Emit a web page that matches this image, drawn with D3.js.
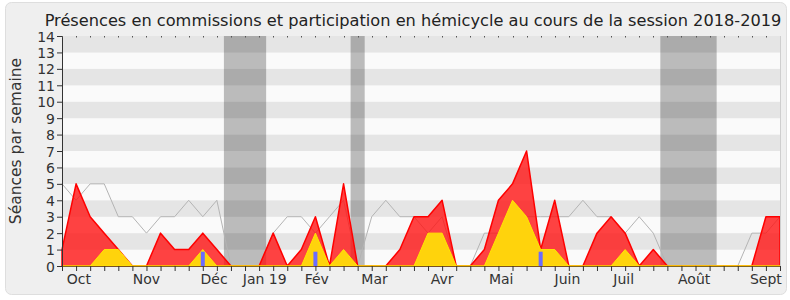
<!DOCTYPE html>
<html>
<head>
<meta charset="utf-8">
<script src="https://cdn.jsdelivr.net/npm/d3@7"></script>
<style>
  html, body { margin: 0; padding: 0; background: #ffffff; }
  svg { display: block; font-family: "DejaVu Sans", Verdana, sans-serif; }
</style>
</head>
<body>
<svg id="chart" width="790" height="300"></svg>
<script>
// ---- data (one value per week, session 2018-2019) ----
const weeks = d3.range(52);
const commissions = [1,5,3,2,1,0,0,2,1,1,2,1,0,0,0,2,0,1,3,0,5,0,0,0,1,3,3,4,0,0,1,4,5,7,1,4,0,0,2,3,2,0,1,0,0,0,0,0,0,0,3,3];
const hemicycle   = [0,0,0,1,1,0,0,0,0,0,1,0,0,0,0,0,0,0,2,0,1,0,0,0,0,0,2,2,0,0,0,2,4,3,1,1,0,0,0,0,1,0,0,0,0,0,0,0,0,0,0,0];
const mediane     = [5,4,5,5,3,3,2,3,3,4,3,4,0,0,0,2,3,3,2,3,4,0,3,4,3,3,2,3,0,0,2,2,3,3,3,3,3,4,3,3,2,3,2,0,0,0,0,0,0,2,2,3];
const questionWeeks  = [10, 18, 34];
const questionValues = [0.87, 0.87, 0.87];
const vacationWeeks = [[12,13,14],[21],[43,44,45,46]];
const monthLabels = ["Oct","Nov","Déc","Jan 19","Fév","Mar","Avr","Mai","Juin","Juil","Août","Sept"];
const monthPos    = [1.2, 6, 10.8, 14.4, 18.1, 22.2, 27, 31.2, 35.9, 39.9, 44.9, 50];
const yTicks = d3.range(0, 15);
const title = "Présences en commissions et participation en hémicycle au cours de la session 2018-2019";
const yTitle = "Séances par semaine";

// ---- layout ----
const svg = d3.select("#chart");
const pLeft = 62, pRight = 780, pTop = 36, pBottom = 266;
const x = d3.scaleLinear().domain([0, 51]).range([pLeft, pRight]);
const y = d3.scaleLinear().domain([0, 14]).range([pBottom, pTop]);

// frame
svg.append("rect").attr("x", 5.5).attr("y", 2.5).attr("width", 781).attr("height", 292)
  .attr("rx", 6).attr("fill", "#efefef").attr("stroke", "#dedede");

// stripes
svg.append("g").selectAll("rect").data(d3.range(0, 14)).join("rect")
  .attr("x", pLeft).attr("width", pRight - pLeft)
  .attr("y", d => y(d + 1)).attr("height", d => y(d) - y(d + 1))
  .attr("fill", d => d % 2 === 1 ? "#e5e5e5" : "#fafafa");

// vacation bands
svg.append("g").selectAll("rect").data(vacationWeeks).join("rect")
  .attr("x", d => x(d[0] - 0.5))
  .attr("width", d => x(d[d.length - 1] + 0.5) - x(d[0] - 0.5))
  .attr("y", pTop).attr("height", pBottom - pTop)
  .attr("fill", "rgba(0,0,0,0.25)");

// axis line
svg.append("line").attr("x1", pLeft).attr("x2", pRight).attr("y1", pBottom + 0.5).attr("y2", pBottom + 0.5)
  .attr("stroke", "#333");

// median grey line
const line = d3.line().x((d, i) => x(i)).y(d => y(d));
svg.append("path").datum(mediane).attr("d", line)
  .attr("fill", "none").attr("stroke", "#b4b4b4").attr("stroke-width", 1);

// areas
const area = d3.area().x((d, i) => x(i)).y0(y(0)).y1(d => y(d));
svg.append("path").datum(commissions).attr("d", area)
  .attr("fill", "rgba(255,20,20,0.8)").attr("stroke", "#ff0000").attr("stroke-width", 1.5)
  .attr("stroke-linejoin", "round");
svg.append("path").datum(hemicycle).attr("d", area)
  .attr("fill", "#ffd30c").attr("stroke", "#ffe800").attr("stroke-width", 1);

// question bars
svg.append("g").selectAll("rect").data(questionWeeks).join("rect")
  .attr("x", d => x(d) - 2).attr("width", 4)
  .attr("y", (d, i) => y(questionValues[i]))
  .attr("height", (d, i) => y(0) - y(questionValues[i]))
  .attr("fill", "#6b6bff");

// baseline again on top (dark)
svg.append("line").attr("x1", pLeft).attr("x2", pRight).attr("y1", pBottom + 0.5).attr("y2", pBottom + 0.5)
  .attr("stroke", "#333").attr("stroke-opacity", 0.6);

// y axis
const yAxis = d3.axisLeft(y).tickValues(yTicks).tickSize(5).tickFormat(d3.format("d"));
const gy = svg.append("g").attr("transform", `translate(${pLeft},0)`).call(yAxis);
gy.select(".domain").attr("stroke", "#333");
gy.selectAll(".tick line").attr("stroke", "#333");
gy.selectAll(".tick text").attr("font-size", 14).attr("fill", "#333")
  .attr("font-family", "DejaVu Sans").attr("x", -7).attr("dy", "0.36em");

// x axis ticks (weekly)
const xAxis = d3.axisBottom(x).tickValues(weeks).tickSize(5).tickFormat("");
const gx = svg.append("g").attr("transform", `translate(0,${pBottom})`).call(xAxis);
gx.select(".domain").remove();
gx.selectAll(".tick line").attr("stroke", "#333");

// tiny top ticks
svg.append("g").selectAll("rect").data(weeks).join("rect")
  .attr("x", d => Math.round(x(d))).attr("y", pTop).attr("width", 1).attr("height", 1.5)
  .attr("fill", "#555");

// right edge
svg.append("line").attr("x1", pRight + 0.5).attr("x2", pRight + 0.5).attr("y1", pTop).attr("y2", pBottom)
  .attr("stroke", "#cfcfcf");

// month labels
svg.append("g").selectAll("text").data(monthLabels).join("text")
  .attr("x", (d, i) => x(monthPos[i])).attr("y", 284)
  .attr("text-anchor", "middle").attr("font-size", 14).attr("fill", "#333")
  .text(d => d);

// titles
svg.append("text").attr("x", 413).attr("y", 26).attr("text-anchor", "middle")
  .attr("font-size", 16.2).attr("fill", "#222").text(title);
svg.append("text").attr("transform", "translate(21,141) rotate(-90)")
  .attr("text-anchor", "middle").attr("font-size", 15.5).attr("fill", "#333").text(yTitle);
</script>
</body>
</html>
